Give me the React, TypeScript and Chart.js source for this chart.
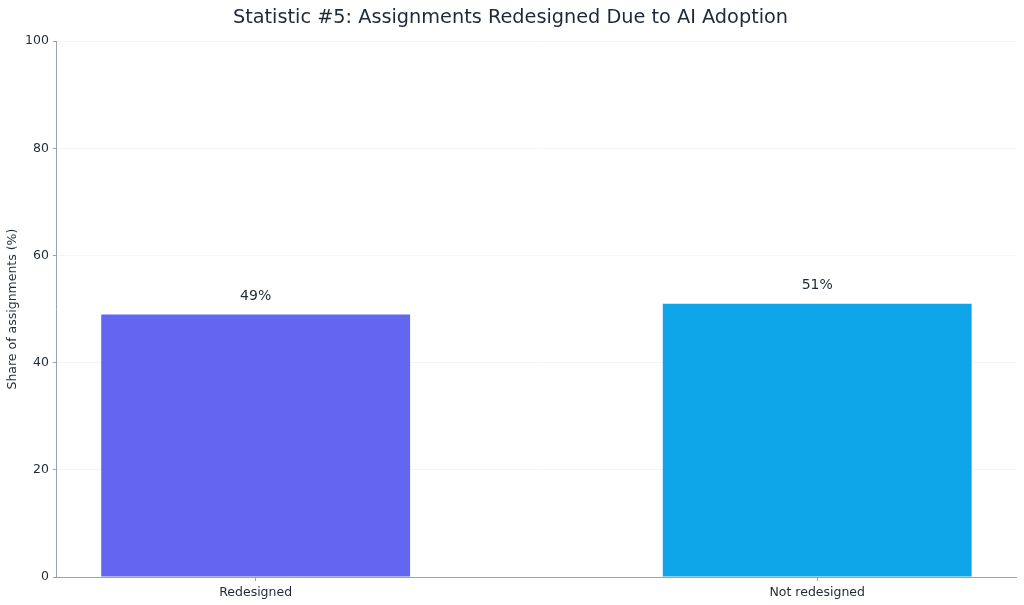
import React, { useEffect, useRef } from 'react';
import { Chart, registerables, ChartConfiguration, Plugin } from 'chart.js';

Chart.register(...registerables);

const categories = ['Redesigned', 'Not redesigned'];
const shares = [49, 51];
const barColors = ['#6366F1', '#0EA5E9'];
const yTicks = [0, 20, 40, 60, 80, 100];

const FONT = "'DejaVu Sans', sans-serif";
const TEXT = '#1f2937';
const AXIS = '#94a3b8';

// writes "49%" etc. above each bar
const valueLabels: Plugin<'bar'> = {
  id: 'valueLabels',
  afterDatasetsDraw(chart) {
    const ctx = chart.ctx;
    const meta = chart.getDatasetMeta(0);
    ctx.save();
    ctx.font = `14px ${FONT}`;
    ctx.fillStyle = TEXT;
    ctx.textAlign = 'center';
    ctx.textBaseline = 'middle';
    meta.data.forEach((bar, i) => {
      ctx.fillText(`${shares[i]}%`, bar.x, bar.y - 18);
    });
    ctx.restore();
  },
};

const App: React.FC = () => {
  const canvasRef = useRef<HTMLCanvasElement>(null);
  const chartRef = useRef<Chart<'bar'>>();

  useEffect(() => {
    document.body.style.margin = '0';
    const canvas = canvasRef.current;
    if (!canvas) return;
    if (chartRef.current) chartRef.current.destroy();

    const config: ChartConfiguration<'bar'> = {
      type: 'bar',
      data: {
        datasets: [
          {
            data: shares.map((v, i) => ({ x: i, y: v })) as any,
            backgroundColor: barColors,
            borderWidth: 0,
            barPercentage: 0.55,
            categoryPercentage: 1,
          },
        ],
      },
      plugins: [valueLabels],
      options: {
        animation: false,
        responsive: false,
        layout: { padding: { left: 5, right: 8, top: 6, bottom: 1 } },
        plugins: {
          legend: { display: false },
          tooltip: { enabled: false },
          title: {
            display: true,
            text: 'Statistic #5: Assignments Redesigned Due to AI Adoption',
            color: TEXT,
            font: { family: FONT, size: 19.3, weight: 'normal' },
            padding: { top: 0, bottom: 12 },
          },
        },
        scales: {
          x: {
            type: 'linear',
            offset: false,
            min: -0.354,
            max: 1.354,
            afterBuildTicks: (axis) => {
              axis.ticks = categories.map((_, i) => ({ value: i }));
            },
            ticks: {
              callback: (v) => categories[Number(v)] ?? '',
              color: TEXT,
              font: { family: FONT, size: 12.5 },
              padding: 4,
              maxRotation: 0,
            },
            grid: { offset: false, drawOnChartArea: false, tickLength: 4, tickColor: AXIS },
            border: { color: AXIS, width: 1 },
          },
          y: {
            min: 0,
            max: 100,
            z: 1, // faint grid shows over the bars, as in the original
            afterBuildTicks: (axis) => {
              axis.ticks = yTicks.map((v) => ({ value: v }));
            },
            ticks: {
              color: TEXT,
              font: { family: FONT, size: 12.5 },
              padding: 4,
            },
            grid: { color: 'rgba(226,232,240,0.45)', tickLength: 4, tickColor: AXIS },
            border: { color: AXIS, width: 1 },
            title: {
              display: true,
              text: 'Share of assignments (%)',
              color: TEXT,
              font: { family: FONT, size: 12.5 },
              padding: { top: 0, bottom: 1 },
            },
          },
        },
      },
    };

    chartRef.current = new Chart(canvas, config);
    return () => {
      if (chartRef.current) chartRef.current.destroy();
      chartRef.current = undefined;
    };
  }, []);

  return (
    <div style={{ width: 1024, height: 605, background: '#fff' }}>
      <canvas ref={canvasRef} width={1024} height={605} style={{ display: 'block' }} />
    </div>
  );
};

export default App;
